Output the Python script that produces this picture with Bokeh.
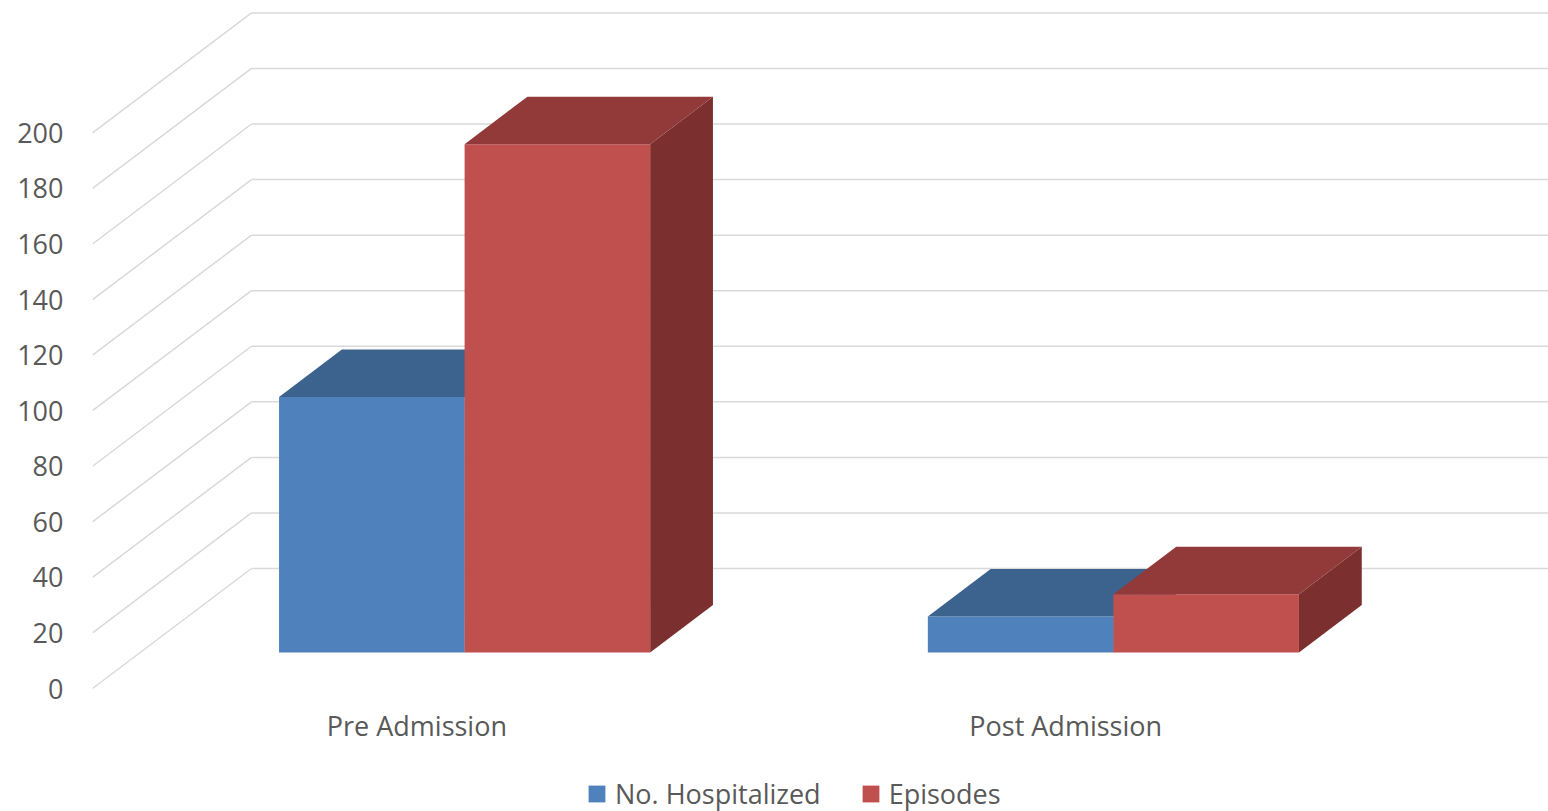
from bokeh.plotting import figure
from bokeh.models import Range1d, FixedTicker, Legend, LegendItem
from bokeh.embed import file_html
from bokeh.resources import INLINE

# ---- data ----
categories = ["Pre Admission", "Post Admission"]
series_names = ["No. Hospitalized", "Episodes"]
hospitalized = [92, 13]
episodes = [183, 21]
y_ticks = [0, 20, 40, 60, 80, 100, 120, 140, 160, 180, 200]

# ---- styles ----
front_colors = ["#4F81BD", "#C0504D"]
top_colors = ["#3C628E", "#923A39"]
side_colors = ["#345680", "#7B2F2E"]
grid_color = "#D9D9D9"
text_color = "#595959"
FONT = "Open Sans"
FSIZE = "27px"

# ---- projection geometry ----
W, H = 1548, 811
FRAME_LEFT = 92
ZERO_PX = 688                # screen row of the front-plane zero
AXIS_PX = 700                # screen row of the category axis
PX_PER_UNIT = 2.778
CAT_PX = 648.8
DX = 159 / CAT_PX            # depth offset in category units
DY = 120 / PX_PER_UNIT       # depth offset in value units
BAR_W = 0.286
F0, F1 = 0.30, 0.695         # bar depth span (fraction of floor depth)
frame_w = W - FRAME_LEFT
y0 = -(H - ZERO_PX) / PX_PER_UNIT

p = figure(width=W, height=H, output_backend="svg", toolbar_location=None,
           x_range=Range1d(0, frame_w / CAT_PX),
           y_range=Range1d(y0, y0 + H / PX_PER_UNIT),
           min_border_left=FRAME_LEFT, min_border_right=0,
           min_border_top=0, min_border_bottom=0)
p.outline_line_color = None
p.xgrid.grid_line_color = None
p.ygrid.grid_line_color = None
p.background_fill_color = "white"
p.border_fill_color = "white"

# ---- gridlines: side wall diagonals + back wall horizontals ----
n = len(categories)
p.segment(x0=[0] * len(y_ticks), y0=y_ticks,
          x1=[DX] * len(y_ticks), y1=[v + DY for v in y_ticks],
          line_color=grid_color, line_width=1.5)
p.segment(x0=[DX] * len(y_ticks), y0=[v + DY for v in y_ticks],
          x1=[n + DX] * len(y_ticks), y1=[v + DY for v in y_ticks],
          line_color=grid_color, line_width=1.5)

# ---- 3D bars ----
ddx = (F1 - F0) * DX
ddy = (F1 - F0) * DY
front_renderers = []
for j, vals in enumerate([hospitalized, episodes]):
    lefts, rights, bottoms, tops = [], [], [], []
    top_xs, top_ys, side_xs, side_ys = [], [], [], []
    for i, v in enumerate(vals):
        cx = i + 0.5
        xl = cx - BAR_W + j * BAR_W + F0 * DX
        xr = xl + BAR_W
        yb = F0 * DY
        yt = yb + v
        lefts.append(xl); rights.append(xr); bottoms.append(yb); tops.append(yt)
        top_xs.append([xl, xr, xr + ddx, xl + ddx])
        top_ys.append([yt, yt, yt + ddy, yt + ddy])
        side_xs.append([xr, xr + ddx, xr + ddx, xr])
        side_ys.append([yb, yb + ddy, yt + ddy, yt])
    p.patches(xs=side_xs, ys=side_ys, fill_color=side_colors[j], line_color=None)
    r = p.quad(left=lefts, right=rights, bottom=bottoms, top=tops,
               fill_color=front_colors[j], line_color=None)
    p.patches(xs=top_xs, ys=top_ys, fill_color=top_colors[j], line_color=None)
    front_renderers.append(r)

# ---- axes ----
yax = p.yaxis[0]
yax.ticker = FixedTicker(ticks=y_ticks)
yax.axis_line_color = None
yax.major_tick_line_color = None
yax.minor_tick_line_color = None
yax.major_tick_out = 0
yax.major_label_standoff = 29
yax.major_label_text_font = FONT
yax.major_label_text_font_size = FSIZE
yax.major_label_text_color = text_color

xax = p.xaxis[0]
xax.fixed_location = -(AXIS_PX - ZERO_PX) / PX_PER_UNIT
xax.ticker = FixedTicker(ticks=[i + 0.5 for i in range(n)])
xax.major_label_overrides = {i + 0.5: c for i, c in enumerate(categories)}
xax.axis_line_color = None
xax.major_tick_line_color = None
xax.minor_tick_line_color = None
xax.major_tick_out = 0
xax.major_tick_in = 0
xax.major_label_standoff = 6
xax.major_label_text_font = FONT
xax.major_label_text_font_size = FSIZE
xax.major_label_text_color = text_color

# ---- legend ----
legend = Legend(items=[LegendItem(label=series_names[k], renderers=[front_renderers[k]])
                       for k in range(2)],
                orientation="horizontal", location=(494, -1),
                glyph_width=21, glyph_height=21, label_standoff=8, spacing=39,
                padding=0, margin=0, border_line_color=None,
                background_fill_alpha=0,
                label_text_font=FONT, label_text_font_size=FSIZE,
                label_text_color=text_color)
p.add_layout(legend)

open("out.html", "w").write(file_html(p, INLINE))
